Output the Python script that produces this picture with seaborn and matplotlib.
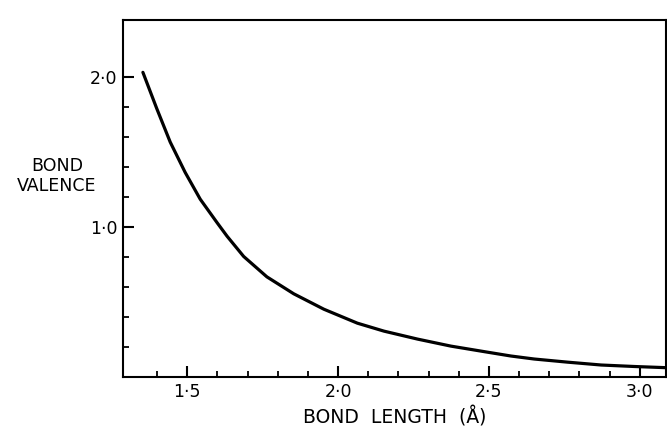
import matplotlib
matplotlib.use("Agg")
import matplotlib.pyplot as plt
from matplotlib.ticker import FixedLocator
import seaborn as sns
import pandas as pd
import numpy as np

# Values
bond_length = [1.353, 1.399, 1.4435, 1.493, 1.543, 1.599, 1.632, 1.687, 1.764,
               1.853, 1.953, 2.064, 2.152, 2.263, 2.374, 2.485, 2.573, 2.650,
               2.761, 2.872, 2.983, 3.09]
bond_valence = [2.032, 1.790, 1.567, 1.365, 1.186, 1.029, 0.939, 0.804, 0.668,
                0.555, 0.452, 0.359, 0.306, 0.253, 0.206, 0.169, 0.140, 0.120,
                0.099, 0.080, 0.070, 0.062]
x_major = [1.5, 2.0, 2.5, 3.0]
x_labels = ["1·5", "2·0", "2·5", "3·0"]
y_major = [1.0, 2.0]
y_labels = ["1·0", "2·0"]

sns.set_theme(style="white")
plt.rcParams["font.family"] = ["DejaVu Sans"]

df = pd.DataFrame({"R": bond_length, "s": bond_valence})

fig = plt.figure(figsize=(6.67, 4.29), dpi=100)
ax = fig.add_axes([0.1844, 0.1212, 0.8141, 0.8318])
sns.lineplot(data=df, x="R", y="s", ax=ax, color="black", linewidth=2.3)

ax.set_xlim(1.287, 3.087)
ax.set_ylim(0, 2.38)

for sp in ax.spines.values():
    sp.set_visible(True)
    sp.set_color("black")
    sp.set_linewidth(1.5)

x_minor = [round(v, 1) for v in np.arange(1.4, 3.01, 0.1) if round(v, 1) not in x_major]
y_minor = [round(v, 1) for v in np.arange(0.2, 1.81, 0.2) if round(v, 1) not in y_major]

ax.xaxis.set_major_locator(FixedLocator(x_major))
ax.set_xticklabels(x_labels)
ax.xaxis.set_minor_locator(FixedLocator(x_minor))
ax.yaxis.set_major_locator(FixedLocator(y_major))
ax.set_yticklabels(y_labels)
ax.yaxis.set_minor_locator(FixedLocator(y_minor))

ax.tick_params(axis="both", which="major", direction="in", length=8, width=1.5,
               color="black", labelsize=12.5, labelcolor="black", pad=4,
               bottom=True, left=True, top=False, right=False)
ax.tick_params(axis="both", which="minor", direction="in", length=4, width=1.3,
               color="black", bottom=True, left=True, top=False, right=False)

ax.set_xlabel("BOND  LENGTH  (Å)", fontsize=13.5, color="black", labelpad=4)
ax.set_ylabel("")
fig.text(57 / 667, 1 - 176 / 429, "BOND\nVALENCE", ha="center", va="center",
         fontsize=12.5, color="black", linespacing=1.1)

fig.savefig("out.png", dpi=100)
